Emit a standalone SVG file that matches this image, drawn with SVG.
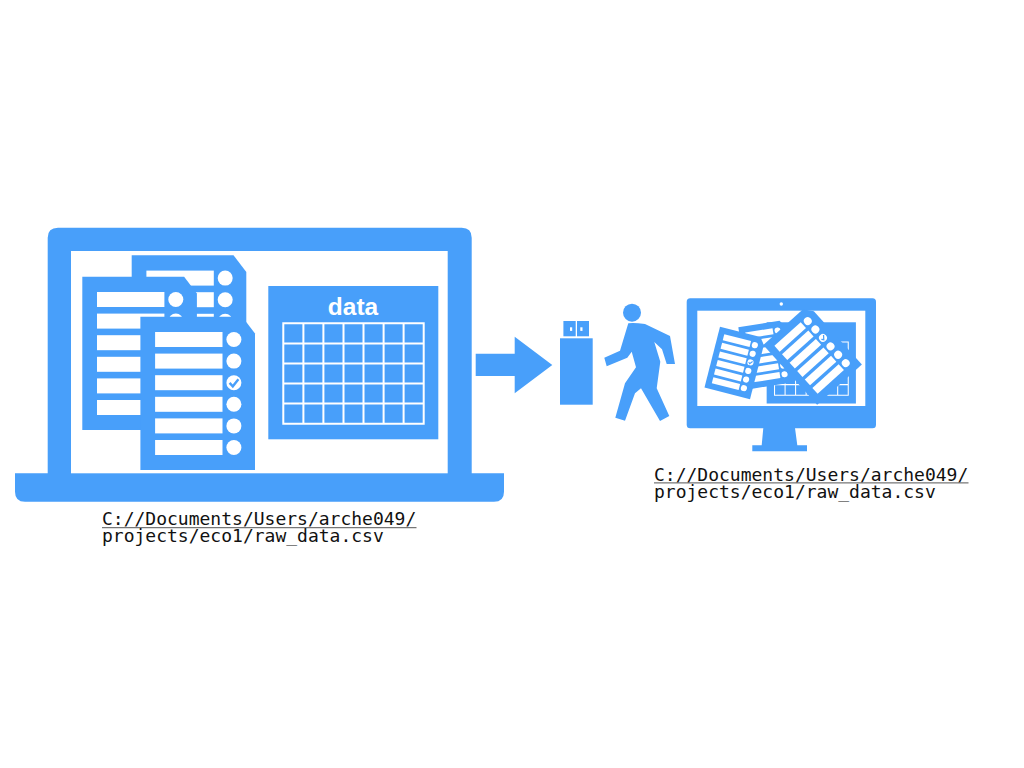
<svg xmlns="http://www.w3.org/2000/svg" xmlns:xlink="http://www.w3.org/1999/xlink" width="1024" height="768" viewBox="0 0 1024 768">
<style>
.b{fill:#489ffa}
.w{fill:#fff}
.path{font-family:"DejaVu Sans Mono","Liberation Mono",monospace;font-size:18px;fill:#111}
.ul{fill:#555}
.title{font-family:"Liberation Sans",Arial,sans-serif;font-size:24.5px;font-weight:bold;fill:#fff;text-anchor:middle}
.grid{fill:none;stroke:#fff;stroke-width:2}
</style>
<defs>
<g id="doc">
<path class="b" d="M0 0H101.8L114.6 16.7V153.3H0Z"/>
<g class="w">
<rect x="14.7" y="15.3" width="67.4" height="15"/><rect x="14.7" y="36.9" width="67.4" height="15"/><rect x="14.7" y="58.5" width="67.4" height="15"/><rect x="14.7" y="80.1" width="67.4" height="15"/><rect x="14.7" y="101.7" width="67.4" height="15"/><rect x="14.7" y="123.3" width="67.4" height="15"/>
<circle cx="93.5" cy="22.8" r="7.5"/><circle cx="93.5" cy="44.4" r="7.5"/><circle cx="93.5" cy="66" r="7.5"/><circle cx="93.5" cy="87.6" r="7.5"/><circle cx="93.5" cy="109.2" r="7.5"/><circle cx="93.5" cy="130.8" r="7.5"/>
</g>
<path d="M89.2 66.2L92.4 69.6L98 62.6" fill="none" stroke="#489ffa" stroke-width="2.4"/>
</g>
<g id="grid">
<path class="grid" d="M283.3 323.3H423.7V423.7H283.3ZM303.4 323.3V423.7M323.4 323.3V423.7M343.5 323.3V423.7M363.5 323.3V423.7M383.6 323.3V423.7M403.6 323.3V423.7M283.3 343.4H423.7M283.3 363.5H423.7M283.3 383.5H423.7M283.3 403.6H423.7"/>
</g>
</defs>

<g id="laptop">
<path class="b" d="M58 227.7H461.7Q471.7 227.7 471.7 237.7V473.3H504V491.7Q504 501.7 494 501.7H25Q15 501.7 15 491.7V473.3H47.7V237.7Q47.7 227.7 58 227.7Z"/>
<rect class="w" x="71" y="251" width="376.7" height="222.3"/>
</g>
<g id="doc-back-top"><use xlink:href="#doc" href="#doc" transform="translate(131.7 255.3)"/></g>
<g id="doc-back-left"><use xlink:href="#doc" href="#doc" transform="translate(82.3 276.7)"/></g>
<g id="doc-front"><use xlink:href="#doc" href="#doc" transform="translate(140.4 316.7)"/></g>
<g id="data-table">
<rect class="b" x="268.3" y="286" width="170" height="153.3"/>
<use xlink:href="#grid" href="#grid"/>
<text class="title" x="353" y="314.7">data</text>
</g>
<g id="label-laptop">
<text class="path" x="102" y="525">C://Documents/Users/arche049/</text>
<rect class="ul" x="102" y="527.2" width="314.5" height="1"/>
<text class="path" x="102" y="541.7">projects/eco1/raw_data.csv</text>
</g>

<g id="connectors">
<path class="b" d="M475.7 353.7H514.7V336.7L552.3 365L514.7 393.3V376H475.7Z"/>
</g>

<g id="usb">
<rect class="b" x="560" y="338.3" width="32.7" height="66.4"/>
<rect class="b" x="563.4" y="321" width="12.3" height="15.3"/>
<rect class="b" x="577" y="321" width="12" height="15.3"/>
<rect class="w" x="570" y="327.3" width="2.2" height="3.6"/>
<rect class="w" x="580.3" y="327.3" width="2.2" height="3.6"/>
</g>

<g id="person">
<circle class="b" cx="632" cy="312.7" r="9"/>
<path class="b" d="M628.3 323.3Q634 322.5 645 324L670 336L675 364H666.7L662 349.3L654.3 342L660.3 361.7L656.7 388.3L669.3 416L660 421L641 388.3L635 393.3L625 420.7L615.3 417.7L625 383.3L636 367.3L631.7 351.7L627.3 357.7L606.7 366.3L604.3 357.7L620 350.7Z"/>
</g>

<g id="monitor">
<rect class="b" x="686.7" y="298.3" width="189.3" height="130" rx="3.5"/>
<rect class="w" x="697.3" y="310.7" width="168" height="95.3"/>
<circle class="w" cx="781.3" cy="304" r="1.7"/>
<path class="b" d="M763.3 428H795L797.3 445.3H807V451.3H752.3V445.3H761.7Z"/>
</g>
<g id="monitor-table">
<g transform="translate(625.8 170.7) scale(.525 .53)">
<rect class="b" x="268.3" y="286" width="170" height="153.3"/>
<use xlink:href="#grid" href="#grid"/>
</g>
</g>
<g id="monitor-doc-middle"><use xlink:href="#doc" href="#doc" transform="translate(738.3 327.3) rotate(-9) scale(.41)"/></g>
<g id="monitor-doc-left"><use xlink:href="#doc" href="#doc" transform="translate(720 326.7) rotate(14.3) scale(.41)"/></g>
<g id="monitor-doc-right"><use xlink:href="#doc" href="#doc" transform="translate(763.3 345) rotate(-42) scale(.525)"/></g>

<g id="label-monitor">
<text class="path" x="654" y="480.7">C://Documents/Users/arche049/</text>
<rect class="ul" x="654" y="482.4" width="314.5" height="1"/>
<text class="path" x="654" y="497.7">projects/eco1/raw_data.csv</text>
</g>
</svg>
